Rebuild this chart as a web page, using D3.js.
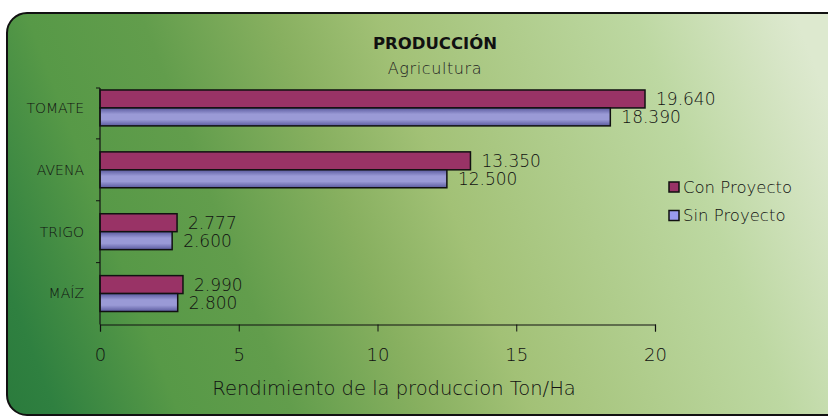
<!DOCTYPE html>
<html>
<head>
<meta charset="utf-8">
<script src="https://cdn.jsdelivr.net/npm/d3@7"></script>
<style>
  body { margin: 0; background: #fff; overflow: hidden; }
  svg { display: block; }
  svg text { font-family: "DejaVu Sans", sans-serif; }
</style>
</head>
<body>
<div id="chart"></div>
<script>
// data
const categories = ["TOMATE", "AVENA", "TRIGO", "MAÍZ"];
const seriesNames = ["Con Proyecto", "Sin Proyecto"];
const conProyecto = [19.64, 13.35, 2.777, 2.99];
const sinProyecto = [18.39, 12.5, 2.6, 2.8];
const xTicks = [0, 5, 10, 15, 20];

const width = 828;
const height = 416;

const svg = d3
  .select("#chart")
  .append("svg")
  .attr("width", width)
  .attr("height", height);

const defs = svg.append("defs");

// panel background gradient, dark green bottom-left to pale top-right
const bg = defs
  .append("linearGradient")
  .attr("id", "bg")
  .attr("gradientUnits", "userSpaceOnUse")
  .attr("x1", 0).attr("y1", 416)
  .attr("x2", 828).attr("y2", 100);
[
  [0, "#2a7a3c"],
  [0.06, "#2f8040"],
  [0.19, "#579947"],
  [0.31, "#629d4c"],
  [0.45, "#88b060"],
  [0.56, "#a2c176"],
  [0.83, "#bdd8a2"],
  [0.97, "#d8e6c8"],
  [1, "#dde9cf"],
].forEach(([o, c]) => bg.append("stop").attr("offset", o).attr("stop-color", c));

// bar gradient for the blue series
const blue = defs
  .append("linearGradient")
  .attr("id", "blue")
  .attr("x1", 0).attr("y1", 0)
  .attr("x2", 0).attr("y2", 1);
blue.append("stop").attr("offset", 0).attr("stop-color", "#5a5a9e");
blue.append("stop").attr("offset", 0.35).attr("stop-color", "#9a9ad6");
blue.append("stop").attr("offset", 0.65).attr("stop-color", "#9a9ad6");
blue.append("stop").attr("offset", 1).attr("stop-color", "#5a5a9e");

svg
  .append("rect")
  .attr("x", 7)
  .attr("y", 13)
  .attr("width", 1000)
  .attr("height", 402)
  .attr("rx", 20)
  .attr("fill", "url(#bg)")
  .attr("stroke", "#111")
  .attr("stroke-width", 2);

// scales
const x = d3.scaleLinear().domain([0, 20]).range([100, 655]);
const y = d3
  .scaleBand()
  .domain(categories)
  .range([77, 324.5])
  .paddingInner(0.42)
  .paddingOuter(0.21);
const ySub = d3.scaleBand().domain(seriesNames).range([0, y.bandwidth()]);

const colors = { "Con Proyecto": "#993366", "Sin Proyecto": "url(#blue)" };
const legendColors = { "Con Proyecto": "#993366", "Sin Proyecto": "#9999ee" };

// titles
svg
  .append("text")
  .attr("x", 435)
  .attr("y", 49)
  .attr("text-anchor", "middle")
  .attr("font-size", 16.5)
  .attr("font-weight", "bold")
  .attr("fill", "#111")
  .text("PRODUCCIÓN");

svg
  .append("text")
  .attr("x", 435)
  .attr("y", 74)
  .attr("text-anchor", "middle")
  .attr("font-size", 16)
  .attr("font-weight", 200)
  .attr("letter-spacing", 0.6)
  .attr("fill", "#222")
  .text("Agricultura");

// bars
const rows = categories.map((c, i) => ({
  cat: c,
  values: [
    { name: seriesNames[0], value: conProyecto[i] },
    { name: seriesNames[1], value: sinProyecto[i] },
  ],
}));

const groups = svg
  .selectAll("g.row")
  .data(rows)
  .enter()
  .append("g")
  .attr("class", "row")
  .attr("transform", (d) => `translate(0,${y(d.cat)})`);

groups
  .selectAll("rect")
  .data((d) => d.values)
  .enter()
  .append("rect")
  .attr("x", x(0))
  .attr("y", (d) => ySub(d.name))
  .attr("width", (d) => x(d.value) - x(0))
  .attr("height", ySub.bandwidth())
  .attr("fill", (d) => colors[d.name])
  .attr("stroke", "#111")
  .attr("stroke-width", 1.5);

groups
  .selectAll("text")
  .data((d) => d.values)
  .enter()
  .append("text")
  .attr("x", (d) => x(d.value) + 11)
  .attr("y", (d) => ySub(d.name) + ySub.bandwidth() / 2)
  .attr("dy", "0.36em")
  .attr("font-size", 17)
  .attr("font-weight", 200)
  .attr("fill", "#111")
  .text((d) => d3.format(".3f")(d.value));

// x axis
const xAxis = svg
  .append("g")
  .attr("transform", `translate(0,${y.range()[1]})`)
  .call(d3.axisBottom(x).tickValues(xTicks).tickSize(7).tickPadding(17));
xAxis.select(".domain").attr("stroke", "#111").attr("stroke-width", 1.2);
xAxis.selectAll(".tick line").attr("stroke", "#111");
xAxis
  .selectAll(".tick text")
  .attr("font-size", 18)
  .attr("font-weight", 200)
  .attr("fill", "#111");

svg
  .append("text")
  .attr("x", 394)
  .attr("y", 395)
  .attr("text-anchor", "middle")
  .attr("font-size", 19.5)
  .attr("font-weight", 200)
  .attr("fill", "#111")
  .text("Rendimiento de la produccion  Ton/Ha");

// y axis
const yTop = 88;
const yBottom = y.range()[1];
svg
  .append("line")
  .attr("x1", x(0)).attr("x2", x(0))
  .attr("y1", yTop).attr("y2", yBottom)
  .attr("stroke", "#111")
  .attr("stroke-width", 1.2);

const boundaries = [yTop].concat(
  categories.slice(1).map((c) => y(c) - (y.step() * y.paddingInner()) / 2)
);
svg
  .selectAll("line.ytick")
  .data(boundaries)
  .enter()
  .append("line")
  .attr("class", "ytick")
  .attr("x1", x(0) - 4).attr("x2", x(0))
  .attr("y1", (d) => d).attr("y2", (d) => d)
  .attr("stroke", "#111");

svg
  .selectAll("text.cat")
  .data(categories)
  .enter()
  .append("text")
  .attr("class", "cat")
  .attr("x", 84)
  .attr("y", (d) => y(d) + y.bandwidth() / 2)
  .attr("dy", "0.35em")
  .attr("text-anchor", "end")
  .attr("font-size", 14)
  .attr("font-weight", 200)
  .attr("fill", "#111")
  .text((d) => d);

// legend
const legend = svg
  .selectAll("g.legend")
  .data(seriesNames)
  .enter()
  .append("g")
  .attr("class", "legend")
  .attr("transform", (d, i) => `translate(669,${182 + i * 28.5})`);

legend
  .append("rect")
  .attr("width", 10)
  .attr("height", 10)
  .attr("fill", (d) => legendColors[d])
  .attr("stroke", "#111")
  .attr("stroke-width", 1.5);

legend
  .append("text")
  .attr("x", 14)
  .attr("y", 5)
  .attr("dy", "0.35em")
  .attr("font-size", 16.5)
  .attr("font-weight", 200)
  .attr("fill", "#111")
  .text((d) => d);
</script>
</body>
</html>
